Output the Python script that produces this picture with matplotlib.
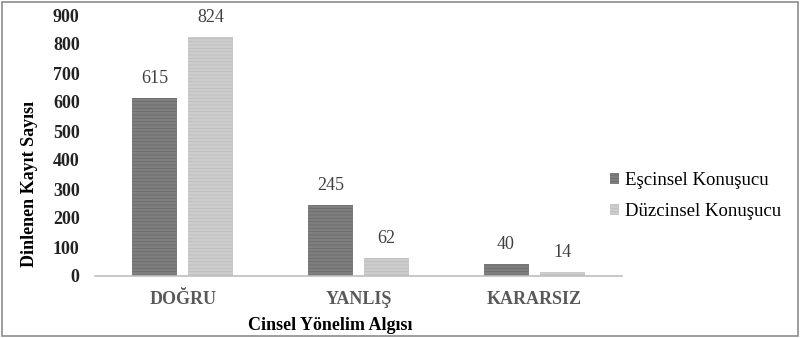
import numpy as np
import matplotlib.pyplot as plt
from matplotlib.patches import Rectangle

plt.rcParams['font.family'] = ['Liberation Serif', 'DejaVu Serif']
plt.rcParams['hatch.linewidth'] = 0.6

# data
categories = ['DOĞRU', 'YANLIŞ', 'KARARSIZ']
series_names = ['Eşcinsel Konuşucu', 'Düzcinsel Konuşucu']
escinsel = [615, 245, 40]
duzcinsel = [824, 62, 14]
yticks = [0, 100, 200, 300, 400, 500, 600, 700, 800, 900]

fig = plt.figure(figsize=(8.01, 3.38), dpi=100)
ax = fig.add_axes([95/801, 1-276/338, 527/801, 261/338])

x = np.arange(len(categories))
w = 0.256
off = 0.16
b1 = ax.bar(x - off, escinsel, w, color='#7f7f7f', edgecolor='#6a6a6a',
            hatch='-----', linewidth=0, label=series_names[0])
b2 = ax.bar(x + off, duzcinsel, w, color='#cdcdcd', edgecolor='#bdbdbd',
            hatch='-----', linewidth=0, label=series_names[1])

for bars, vals in [(b1, escinsel), (b2, duzcinsel)]:
    for r, v in zip(bars, vals):
        ax.text(r.get_x() + r.get_width()/2, v + 38, str(v), ha='center',
                va='bottom', fontsize=13, color='#404040')

ax.set_xlim(-0.5, 2.5)
ax.set_ylim(0, 900)
ax.set_yticks(yticks)
ax.set_yticklabels([str(t) for t in yticks], fontsize=13, fontweight='bold',
                   color='#222222')
ax.set_xticks(x)
ax.set_xticklabels(categories, fontsize=13, fontweight='bold', color='#595959')
ax.tick_params(axis='both', length=0)
ax.tick_params(axis='y', pad=11)
ax.tick_params(axis='x', pad=11)
for s in ['top', 'right', 'left']:
    ax.spines[s].set_visible(False)
ax.spines['bottom'].set_color('#bfbfbf')
ax.spines['bottom'].set_linewidth(1.2)

fig.text(30/801, 1-184/338, 'Dinlenen Kayıt Sayısı', rotation=90, ha='center',
         va='center', fontsize=13, fontweight='bold')
fig.text(330/801, 1-325/338, 'Cinsel Yönelim Algısı', ha='center',
         va='center', fontsize=13, fontweight='bold')

leg = fig.legend(handles=[b1, b2], labels=series_names, loc='center left',
                 bbox_to_anchor=(593/801, 1-196/338), frameon=False,
                 fontsize=13.5, handlelength=0.5, handleheight=0.5,
                 handletextpad=0.3, labelspacing=0.75)

fig.patches.append(Rectangle((2/801, 2/338), 796/801, 334/338,
                             transform=fig.transFigure, fill=False,
                             edgecolor='#8c8c8c', linewidth=1.2))

fig.savefig('out.png', dpi=100)
